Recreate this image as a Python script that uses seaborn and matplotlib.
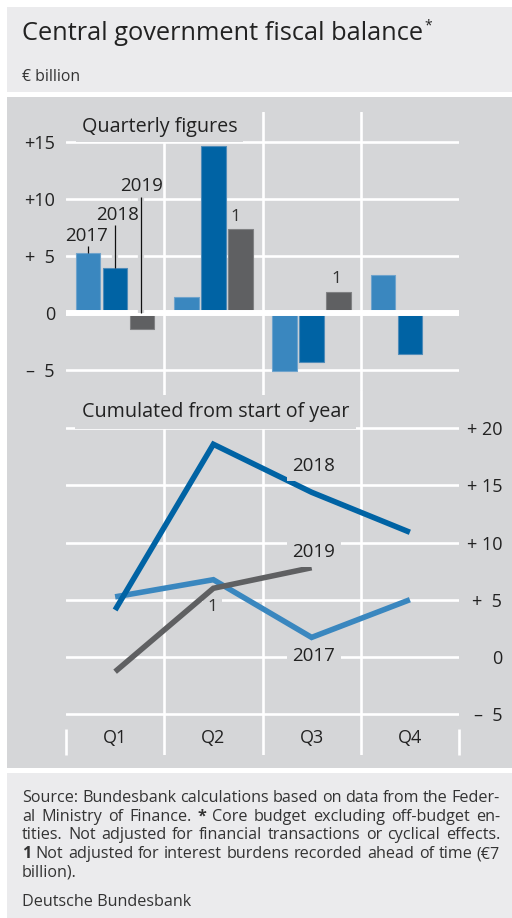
import numpy as np
import pandas as pd
import matplotlib
matplotlib.use("Agg")
import matplotlib.pyplot as plt
import matplotlib.patheffects as pe
from matplotlib.patches import Rectangle
import seaborn as sns

# ---------------- data ----------------
quarters = ["Q1", "Q2", "Q3", "Q4"]
years = ["2017", "2018", "2019"]
quarterly_2017 = [5.25, 1.4, -5.1, 3.3]
quarterly_2018 = [3.97, 14.6, -4.3, -3.6]
quarterly_2019 = [-1.4, 7.38, 1.84, np.nan]
cumulated_2017 = [5.25, 6.75, 1.7, 5.0]
cumulated_2018 = [4.1, 18.6, 14.4, 10.9]
cumulated_2019 = [-1.3, 6.0, 7.8, np.nan]
top_ticks = [-5, 0, 5, 10, 15]
top_ticklabels = ["\u2013  5", "0", "+  5", "+10", "+15"]
bot_ticks = [-5, 0, 5, 10, 15, 20]
bot_ticklabels = ["\u2013  5", "0", "+  5", "+ 10", "+ 15", "+ 20"]

title = "Central government fiscal balance"
unit = "\u20ac billion"
footer_lines = [
    ("Source: Bundesbank calculations based on data from the Feder-", True),
    ("al Ministry of Finance. * Core budget excluding off-budget en-", True),
    ("tities. Not adjusted for financial transactions or cyclical effects.", True),
    ("1 Not adjusted for interest burdens recorded ahead of time (\u20ac7", True),
    ("billion).", False),
]
footer_bold = {1: "*", 3: "1"}
source = "Deutsche Bundesbank"

colors = {"2017": "#3a87bf", "2018": "#0063a4", "2019": "#5f6062"}
edge_colors = {"2017": "#6fa3cc", "2018": "#4f8bb8", "2019": "#808183"}

dfq = pd.DataFrame({
    "quarter": quarters * 3,
    "year": [y for y in years for _ in quarters],
    "value": quarterly_2017 + quarterly_2018 + quarterly_2019,
})
dfc = pd.DataFrame({
    "pos": list(range(4)) * 3,
    "year": [y for y in years for _ in quarters],
    "value": cumulated_2017 + cumulated_2018 + cumulated_2019,
}).dropna()

# ---------------- style ----------------
sns.set_theme(style="white")
plt.rcParams["font.family"] = ["Open Sans", "DejaVu Sans"]
TXT = "#222222"
HDR_BG = "#ebebed"
CH_BG = "#d5d6d8"

W, H = 512, 918
fig = plt.figure(figsize=(W / 100, H / 100), dpi=100, facecolor="white")


def fx(x):
    return x / W


def fy(y):
    return 1 - y / H


def rect(x0, y0, x1, y1, color):
    fig.patches.append(Rectangle((fx(x0), fy(y1)), fx(x1) - fx(x0), fy(y0) - fy(y1),
                                 transform=fig.transFigure, facecolor=color,
                                 edgecolor="none", zorder=-10))


rect(7, 7, 512, 92, HDR_BG)
rect(7, 97, 512, 768, CH_BG)
rect(7, 773, 512, 918, HDR_BG)

fig.canvas.draw()
renderer = fig.canvas.get_renderer()

t_title = fig.text(fx(22), fy(40), title, fontsize=18.3, color=TXT, va="baseline", ha="left")
tb = t_title.get_window_extent(renderer)
fig.text(tb.x1 / W + fx(1.5), fy(29), "*", fontsize=10, color=TXT, va="baseline", ha="left")
fig.text(fx(22), fy(81), unit, fontsize=11.3, color="#333333", va="baseline", ha="left")

# axes geometry (pixels)
AX_L, AX_R = 66, 459
ax1 = fig.add_axes([fx(AX_L), fy(390), fx(AX_R) - fx(AX_L), fy(112) - fy(390)])
ax2 = fig.add_axes([fx(AX_L), fy(755), fx(AX_R) - fx(AX_L), fy(390) - fy(755)])
for ax in (ax1, ax2):
    ax.set_facecolor("none")
    for s in ax.spines.values():
        s.set_visible(False)

GRID_W = 1.9
TICK_FS = 13
LAB_FS = 13.5

# ---------------- top: quarterly bars ----------------
sns.barplot(data=dfq, x="quarter", y="value", hue="year", order=quarters,
            hue_order=years, palette=colors, saturation=1, width=0.825, gap=0.09,
            errorbar=None, legend=False, ax=ax1, zorder=3, linewidth=0.8)
for cont, y in zip(ax1.containers, years):
    for b in cont:
        b.set_edgecolor(edge_colors[y])
ax1.set_xlim(-0.5, 3.5)
ax1.set_ylim(-6.75, 17.6)
for v in top_ticks:
    ax1.axhline(v, color="white", lw=4.3 if v == 0 else GRID_W,
                zorder=4 if v == 0 else 1)
for xv in [0.5, 1.5, 2.5]:
    ax1.axvline(xv, color="white", lw=GRID_W, zorder=1)
ax1.set_yticks(top_ticks)
ax1.set_yticklabels(top_ticklabels)
ax1.tick_params(axis="y", length=0, pad=8, labelsize=TICK_FS, labelcolor=TXT)
ax1.tick_params(axis="x", length=0, labelbottom=False)
ax1.set_xlabel("")
ax1.set_ylabel("")

ax1.text(-0.34, 16.3, "Quarterly figures", fontsize=14.2, color=TXT, ha="left",
         va="center", zorder=6, bbox=dict(facecolor=CH_BG, edgecolor="none", pad=4))

# year labels with leader lines
halo = [pe.Stroke(linewidth=4.5, foreground=CH_BG), pe.Normal()]
off = 0.275
lab = [("2017", -off - 0.02, 6.7, 5.9, quarterly_2017[0]),
       ("2018", 0.02, 8.55, 7.7, quarterly_2018[0]),
       ("2019", off - 0.01, 11.1, 10.15, 0)]
for name, xl, yl, ytop, ybot in lab:
    ax1.text(xl, yl, name, fontsize=LAB_FS, color=TXT, ha="center", va="center", zorder=6)
    xline = {"2017": -off, "2018": 0.0, "2019": off - 0.01}[name]
    ax1.plot([xline, xline], [ytop, ybot], color="#111111", lw=0.9, zorder=5,
             path_effects=halo, solid_capstyle="butt")
ax1.text(1 + off - 0.05, quarterly_2019[1] + 1.0, "1", fontsize=12.5, color="#333333",
         ha="center", va="center", zorder=6)
ax1.text(2 + off - 0.02, quarterly_2019[2] + 1.1, "1", fontsize=12.5, color="#333333",
         ha="center", va="center", zorder=6)

# ---------------- bottom: cumulated lines ----------------
sns.lineplot(data=dfc, x="pos", y="value", hue="year", hue_order=years,
             palette=colors, linewidth=4.0, legend=False, ax=ax2, zorder=3,
             solid_capstyle="butt", solid_joinstyle="miter", sort=True)
ax2.set_xlim(-0.5, 3.5)
ax2.set_ylim(-8.59, 23.35)
for v in bot_ticks:
    ax2.axhline(v, color="white", lw=GRID_W, zorder=1)
for xv in [0.5, 1.5, 2.5]:
    ax2.axvline(xv, color="white", lw=GRID_W, zorder=1)
ax2.vlines([-0.5, 3.5], -8.59, -6.31, color="white", lw=GRID_W, zorder=1, clip_on=False)
ax2.yaxis.tick_right()
ax2.set_yticks(bot_ticks)
ax2.set_yticklabels(bot_ticklabels)
for t in ax2.get_yticklabels():
    t.set_horizontalalignment("right")
ax2.tick_params(axis="y", length=0, pad=31, labelsize=TICK_FS, labelcolor=TXT)
ax2.set_xticks(range(4))
ax2.set_xticklabels(quarters)
ax2.tick_params(axis="x", length=0, pad=-19, labelsize=TICK_FS, labelcolor=TXT)
ax2.set_xlabel("")
ax2.set_ylabel("")

ax2.text(-0.34, 21.4, "Cumulated from start of year", fontsize=14.2, color=TXT,
         ha="left", va="center", zorder=6,
         bbox=dict(facecolor=CH_BG, edgecolor="none", pad=5))
for name, yl in [("2018", 16.7), ("2019", 9.15), ("2017", 0.06)]:
    ax2.text(2.02, yl, name, fontsize=LAB_FS, color=TXT, ha="center", va="center",
             zorder=6, bbox=dict(facecolor=CH_BG, edgecolor="none", pad=4))
ax2.text(0.99, 4.4, "1", fontsize=12.5, color="#333333", ha="center", va="center",
         zorder=2, bbox=dict(facecolor=CH_BG, edgecolor="none", pad=3))

# ---------------- footer (justified) ----------------
FOOT_L, FOOT_R = 22, 500
FS = 11.6
FC = "#333333"
baselines = [802, 820.7, 839.4, 858.1, 876.8]
sp_a = fig.text(0, 0, "a a", fontsize=FS)
sp_b = fig.text(0, 0, "aa", fontsize=FS)
sp = sp_a.get_window_extent(renderer).width - sp_b.get_window_extent(renderer).width
sp_a.remove()
sp_b.remove()
for i, ((line, justify), yb) in enumerate(zip(footer_lines, baselines)):
    words = line.split(" ")
    objs = []
    for w in words:
        bold = footer_bold.get(i) == w
        t = fig.text(0, fy(yb), w, fontsize=FS, color=FC, va="baseline", ha="left",
                     fontweight="bold" if bold else "normal")
        objs.append(t)
    widths = [o.get_window_extent(renderer).width for o in objs]
    if justify and len(words) > 1:
        gap = (FOOT_R - FOOT_L - sum(widths)) / (len(words) - 1)
    else:
        gap = sp
    x = FOOT_L
    for o, wdt in zip(objs, widths):
        o.set_x(fx(x))
        x += wdt + gap

fig.text(fx(22), fy(906.5), source, fontsize=FS, color=FC, va="baseline", ha="left")

fig.savefig("out.png", dpi=100, facecolor="white")
